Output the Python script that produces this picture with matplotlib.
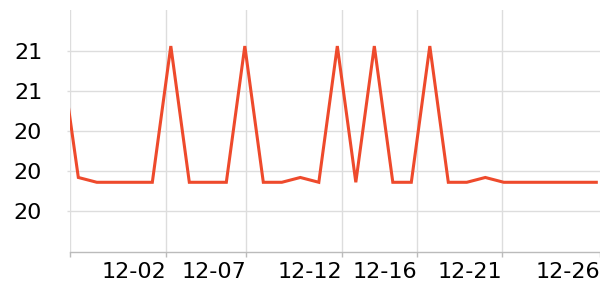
import matplotlib.pyplot as plt
import numpy as np

# daily readings, 11-27 is just left of the visible range
dates = ["11-27", "11-28", "11-29", "11-30", "12-01", "12-02", "12-03",
         "12-04", "12-05", "12-06", "12-07", "12-08", "12-09", "12-10",
         "12-11", "12-12", "12-13", "12-14", "12-15", "12-16", "12-17",
         "12-18", "12-19", "12-20", "12-21", "12-22", "12-23", "12-24",
         "12-25", "12-26"]
values = [21.03, 20.21, 20.18, 20.18, 20.18, 20.18, 21.03,
          20.18, 20.18, 20.18, 21.03, 20.18, 20.18, 20.21,
          20.18, 21.03, 20.18, 21.03, 20.18, 20.18, 21.03,
          20.18, 20.18, 20.21, 20.18, 20.18, 20.18, 20.18,
          20.18, 20.18]

# axis ticks (positions in days from 11-28)
x_ticks = [-0.45, 4.74, 9.06, 14.25, 18.3, 22.9, 28.2]
x_labels = ["", "12-02", "12-07", "12-12", "12-16", "12-21", "12-26"]
y_ticks = [20.0, 20.25, 20.5, 20.75, 21.0]
y_labels = ["20", "20", "20", "21", "21"]

x = np.arange(len(dates)) - 1

fig = plt.figure(figsize=(6, 3), dpi=100)
ax = fig.add_axes([70 / 600, 48 / 300, 530 / 600, 242 / 300])

ax.plot(x, values, color="#ee4a2c", linewidth=2.2, solid_joinstyle="miter")

ax.set_xlim(-0.45, 28.2)
ax.set_ylim(19.745, 21.255)

ax.set_xticks(x_ticks)
ax.set_xticklabels(x_labels, ha="right", fontsize=16)
ax.set_yticks(y_ticks)
ax.set_yticklabels(y_labels, fontsize=16)

ax.tick_params(axis="x", length=3.5, width=1, color="#bbbbbb", pad=4)
ax.tick_params(axis="y", length=2, width=1, color="#dddddd", pad=18)

ax.grid(True, color="#dddddd", linewidth=1)
ax.get_xgridlines()[-1].set_visible(False)
ax.set_axisbelow(True)
for s in ["top", "right", "left"]:
    ax.spines[s].set_visible(False)
ax.spines["bottom"].set_color("#bbbbbb")
ax.spines["bottom"].set_linewidth(1)

fig.savefig("out.png", dpi=100)
